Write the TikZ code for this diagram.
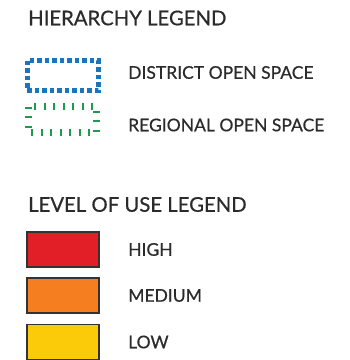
\documentclass[tikz,border=0pt]{standalone}
\usepackage{fontspec}
\setmainfont{Lato}[FakeBold=0.6]
\usetikzlibrary{positioning}

\definecolor{highred}{HTML}{E21F26}
\definecolor{medorange}{HTML}{F47E20}
\definecolor{lowyellow}{HTML}{FBCB0A}
\definecolor{districtblue}{HTML}{1C74BC}
\definecolor{regiongreen}{HTML}{1E9A4E}
\definecolor{legendtext}{HTML}{2B2B2B}

\begin{document}
\begin{tikzpicture}[
      x=1pt, y=-1pt,
      heading/.style={anchor=west, inner sep=0pt, text=legendtext, font=\fontsize{20.3}{23}\selectfont},
      entry/.style={anchor=west, inner sep=0pt, text=legendtext, font=\fontsize{17.5}{20}\selectfont},
      swatch/.style={draw=black!80, line width=1.3pt, minimum width=72pt, minimum height=35pt, inner sep=0pt}]

      \useasboundingbox (0,0) rectangle (350,360);

      % hierarchy legend
      \node[heading] (hierTitle) at (28,18) {HIERARCHY LEGEND};
      \draw[districtblue, line width=5pt, dash pattern=on 4.5pt off 3pt] (27.5,60.5) rectangle (98.5,90.5);
      \node[entry] (district) at (128,72.5) {DISTRICT OPEN SPACE};
      \draw[regiongreen, line width=7pt, dash pattern=on 2pt off 7.5pt] (29,106.5) rectangle (97,132.5);
      \node[entry] (regional) at (128,125) {REGIONAL OPEN SPACE};

      % level of use legend
      \node[heading] (useTitle) at (28,204.5) {LEVEL OF USE LEGEND};
      \foreach \n/\c/\lab/\y in {high/highred/HIGH/249.5, medium/medorange/MEDIUM/295.5, low/lowyellow/LOW/342}{
        \node[swatch, fill=\c] (box\n) at (63,\y) {};
        \node[entry] (lab\n) at (128,\y) {\lab};
      }
    \end{tikzpicture}
\end{document}
